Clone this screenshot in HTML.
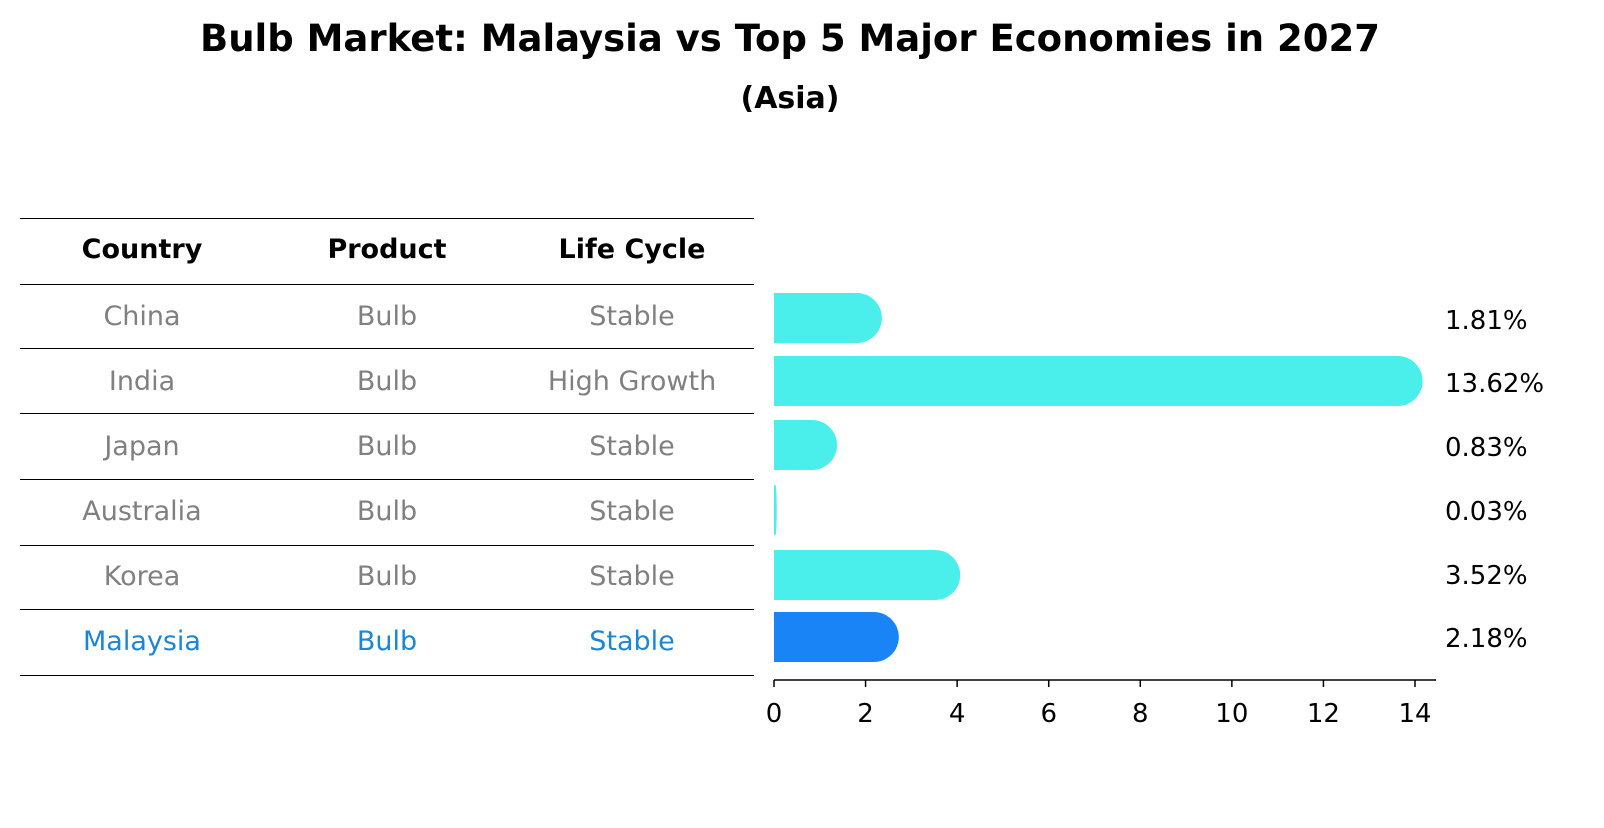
<!DOCTYPE html>
<html><head><meta charset="utf-8"><style>
body{margin:0;background:#fff;width:1604px;height:823px;overflow:hidden;font-family:"Liberation Sans","DejaVu Sans",sans-serif}
</style></head><body>
<svg width="1604" height="823" xmlns="http://www.w3.org/2000/svg" font-family="DejaVu Sans, Liberation Sans, sans-serif">
<text x="790" y="51" text-anchor="middle" font-size="37" font-weight="bold">Bulb Market: Malaysia vs Top 5 Major Economies in 2027</text>
<text x="790" y="108" text-anchor="middle" font-size="30" font-weight="bold">(Asia)</text>
<g id="table"></g>
<g id="bars"></g>
</svg>
<script>
const countries=["China","India","Japan","Australia","Korea","Malaysia"];
const products=["Bulb","Bulb","Bulb","Bulb","Bulb","Bulb"];
const cycles=["Stable","High Growth","Stable","Stable","Stable","Stable"];
const values=[1.81,13.62,0.83,0.03,3.52,2.18];
const ticks=[0,2,4,6,8,10,12,14];
const NS="http://www.w3.org/2000/svg";
function mk(t,a,p){const e=document.createElementNS(NS,t);for(const k in a)e.setAttribute(k,a[k]);p.appendChild(e);return e;}
const tbl=document.getElementById('table'),bars=document.getElementById('bars');
const lines=[218,284,348,413,479,545,609,675];
lines.forEach((y,i)=>{const l=mk('line',{x1:20,x2:754,y1:y+0.5,y2:y+0.5,stroke:'#000','stroke-width':1},tbl);

});
const cx=[142,387,632];
["Country","Product","Life Cycle"].forEach((h,i)=>{const t=mk('text',{x:cx[i],y:258,'text-anchor':'middle','font-size':27,'font-weight':'bold'},tbl);t.textContent=h;

});
const rowY=[315,380,445,510,575,640];
countries.forEach((c,r)=>{const col=c==="Malaysia"?"#1a86d8":"#808080";
[c,products[r],cycles[r]].forEach((v,i)=>{const t=mk('text',{x:cx[i],y:rowY[r]+10,'text-anchor':'middle','font-size':27,fill:col},tbl);t.textContent=v;

});});
const x0=774,sc=(1415-774)/14;const X=v=>x0+v*sc;
const barY=[318,381,445,510,575,637],bh=50;
const labY=[320,383,447,511,575,638];
values.forEach((v,i)=>{const col=countries[i]==="Malaysia"?"#1884f5":"#4aeeea";
const w=X(v)-x0;const rx=Math.min(25,w);
const p=mk('path',{d:`M${x0} ${barY[i]-bh/2} h${w} a${rx} 25 0 0 1 0 ${bh} h${-w} z`,fill:col},bars);


const t=mk('text',{x:1445,y:labY[i]+9,'font-size':26},bars);t.textContent=v.toFixed(2)+'%';

});
const ax=mk('line',{x1:774,x2:1436,y1:680,y2:680,stroke:'#000','stroke-width':1.5},bars);


ticks.forEach(v=>{const l=mk('line',{x1:X(v),x2:X(v),y1:680,y2:687,stroke:'#000','stroke-width':1.5},bars);


const t=mk('text',{x:X(v),y:722,'text-anchor':'middle','font-size':26},bars);t.textContent=v;

});
</script>
</body></html>
